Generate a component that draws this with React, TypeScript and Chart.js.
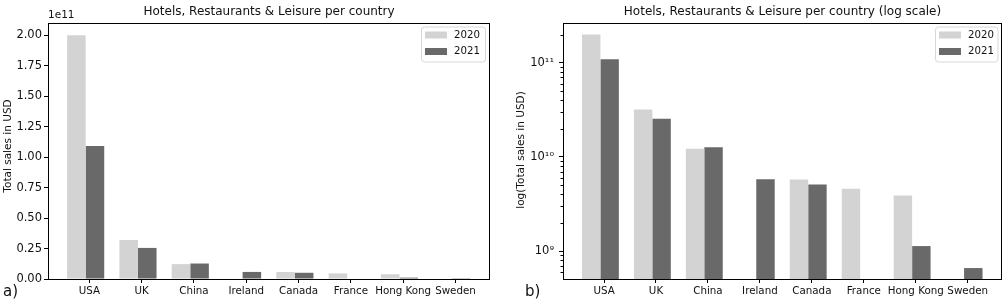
import React, { useEffect, useRef } from 'react';
import { Chart, registerables } from 'chart.js';

Chart.register(...registerables);

// ---------------- data ----------------
const categories = ['USA', 'UK', 'China', 'Ireland', 'Canada', 'France', 'Hong Kong', 'Sweden'];
const seriesNames = ['2020', '2021'];
const sales2020 = [2.0e11, 3.2e10, 1.22e10, null, 5.75e9, 4.6e9, 3.9e9, null];
const sales2021 = [1.09e11, 2.55e10, 1.27e10, 5.8e9, 5.1e9, null, 1.13e9, 6.6e8];
const linearTickValues = [0, 0.25e11, 0.5e11, 0.75e11, 1.0e11, 1.25e11, 1.5e11, 1.75e11, 2.0e11];
const linearExponentLabel = '1e11';
const logMajorLabels: Record<string, string> = { '9': '10⁹', '10': '10¹⁰', '11': '10¹¹' };
const logDecades = [8, 9, 10, 11];
const logMantissas = [1, 2, 3, 4, 5, 6, 7, 8, 9];

// ---------------- style ----------------
const FONT = '"DejaVu Sans", "Liberation Sans", sans-serif';
const COLORS = ['#d3d3d3', '#696969'];
const TEXT = '#111';
const X_SHIFT = -0.07;

type Panel = {
  kind: 'linear' | 'log';
  width: number;
  yWidth: number;
  padRight: number;
  title: string;
  yTitle: string;
  yTitleX: number;
  yTitleY: number;
  tag: string;
  tagX: number;
  legendX: number;
  yTickFont: number;
  yTickPad: number;
};

const panels: Panel[] = [
  {
    kind: 'linear', width: 500, yWidth: 48, padRight: 10,
    title: 'Hotels, Restaurants & Leisure per country',
    yTitle: 'Total sales in USD', yTitleX: 8.5, yTitleY: 146,
    tag: 'a)', tagX: 3, legendX: 421, yTickFont: 11.5, yTickPad: 2,
  },
  {
    kind: 'log', width: 508, yWidth: 63, padRight: 6,
    title: 'Hotels, Restaurants & Leisure per country (log scale)',
    yTitle: 'log(Total sales in USD)', yTitleX: 21.5, yTitleY: 150,
    tag: 'b)', tagX: 25, legendX: 435, yTickFont: 11.5, yTickPad: 5,
  },
];

function overlayPlugin(p: Panel) {
  return {
    id: 'overlay_' + p.kind,
    afterDraw(chart: any) {
      const ctx = chart.ctx as CanvasRenderingContext2D;
      const a = chart.chartArea;
      ctx.save();
      // frame
      ctx.strokeStyle = '#000';
      ctx.lineWidth = 1;
      ctx.strokeRect(a.left + 0.5, a.top + 0.5, a.right - a.left - 1, a.bottom - a.top);
      // minor ticks for log
      if (p.kind === 'log') {
        const ys = chart.scales.y;
        ys.ticks.forEach((t: any) => {
          const e = Math.floor(Math.log10(t.value) + 1e-9);
          const m = Math.round(t.value / Math.pow(10, e));
          if (m !== 1) {
            const py = Math.round(ys.getPixelForValue(t.value)) + 0.5;
            ctx.beginPath();
            ctx.moveTo(a.left, py);
            ctx.lineTo(a.left - 2.5, py);
            ctx.stroke();
          }
        });
      }
      // title
      ctx.fillStyle = TEXT;
      ctx.font = `12px ${FONT}`;
      ctx.textAlign = 'center';
      ctx.textBaseline = 'middle';
      ctx.fillText(p.title, (a.left + a.right) / 2, 12);
      // y title
      ctx.save();
      ctx.translate(p.yTitleX, p.yTitleY);
      ctx.rotate(-Math.PI / 2);
      ctx.font = `10.5px ${FONT}`;
      ctx.fillText(p.yTitle, 0, 0);
      ctx.restore();
      // exponent label
      if (p.kind === 'linear') {
        ctx.font = `10.5px ${FONT}`;
        ctx.textAlign = 'left';
        ctx.fillText(linearExponentLabel, a.left, 15.5);
      }
      // panel tag
      ctx.font = `15px ${FONT}`;
      ctx.textAlign = 'left';
      ctx.fillText(p.tag, p.tagX, 292);
      // legend
      const lx = p.legendX;
      const lw = p.kind === 'linear' ? 64 : 62.5;
      const ly = 26.5;
      const lh = 35;
      ctx.beginPath();
      (ctx as any).roundRect(lx + 0.5, ly + 0.5, lw, lh, 3);
      ctx.fillStyle = 'rgba(255,255,255,0.8)';
      ctx.fill();
      ctx.strokeStyle = '#d8d8d8';
      ctx.stroke();
      seriesNames.forEach((name, i) => {
        const cy = 35 + i * 16.5;
        ctx.fillStyle = COLORS[i];
        ctx.fillRect(lx + 4, cy - 3.5, 22, 7);
        ctx.fillStyle = TEXT;
        ctx.font = `10.2px ${FONT}`;
        ctx.textAlign = 'left';
        ctx.textBaseline = 'middle';
        ctx.fillText(name, lx + 33, cy);
      });
      ctx.restore();
    },
  };
}

function buildConfig(p: Panel): any {
  const mk = (vals: (number | null)[]) => vals.map((v, i) => ({ x: i + X_SHIFT, y: v }));
  const yScale: any =
    p.kind === 'linear'
      ? {
          type: 'linear',
          min: 0,
          max: 2.1e11,
          afterBuildTicks: (s: any) => {
            s.ticks = linearTickValues.map((v) => ({ value: v }));
          },
          ticks: {
            autoSkip: false,
            padding: p.yTickPad,
            color: TEXT,
            font: { family: FONT, size: p.yTickFont },
            callback: (v: number) => (v / 1e11).toFixed(2),
          },
          grid: {
            display: true, drawOnChartArea: false, drawTicks: true,
            tickLength: 4, tickColor: '#000', color: '#000',
          },
          border: { display: false },
          afterFit: (s: any) => { s.width = p.yWidth; },
        }
      : {
          type: 'logarithmic',
          min: 5.05e8,
          max: 2.65e11,
          afterBuildTicks: (s: any) => {
            const t: any[] = [];
            logDecades.forEach((e) =>
              logMantissas.forEach((m) => {
                const v = m * Math.pow(10, e);
                if (v >= 5.05e8 && v <= 2.65e11) t.push({ value: v });
              })
            );
            s.ticks = t;
          },
          ticks: {
            autoSkip: false,
            padding: p.yTickPad,
            color: TEXT,
            font: { family: FONT, size: p.yTickFont },
            callback: (v: number) => {
              const e = Math.log10(v);
              const r = Math.round(e);
              return Math.abs(e - r) < 1e-6 ? logMajorLabels[String(r)] ?? '' : '';
            },
          },
          grid: {
            display: true, drawOnChartArea: false, drawTicks: true,
            tickLength: 4,
            tickColor: (c: any) => {
              const v = c.tick ? c.tick.value : 0;
              const e = Math.log10(v);
              return Math.abs(e - Math.round(e)) < 1e-6 ? '#000' : 'rgba(0,0,0,0)';
            },
            color: '#000',
          },
          border: { display: false },
          afterFit: (s: any) => { s.width = p.yWidth; },
        };

  return {
    type: 'bar',
    data: {
      datasets: [
        { label: seriesNames[0], data: mk(sales2020), backgroundColor: COLORS[0], borderWidth: 0 },
        { label: seriesNames[1], data: mk(sales2021), backgroundColor: COLORS[1], borderWidth: 0 },
      ],
    },
    options: {
      animation: false,
      responsive: false,
      devicePixelRatio: 1,
      layout: { padding: { top: 23, right: p.padRight, left: 0, bottom: 0 } },
      datasets: { bar: { categoryPercentage: 0.71, barPercentage: 1.0 } },
      plugins: { legend: { display: false }, title: { display: false }, tooltip: { enabled: false } },
      scales: {
        x: {
          type: 'linear',
          offset: false,
          min: -0.79,
          max: 7.66,
          afterBuildTicks: (s: any) => {
            s.ticks = categories.map((_, i) => ({ value: i }));
          },
          ticks: {
            autoSkip: false,
            maxRotation: 0,
            padding: 2,
            color: TEXT,
            font: { family: FONT, size: 10.3 },
            callback: (v: number) => categories[Math.round(v)] ?? '',
          },
          grid: {
            display: true, drawOnChartArea: false, drawTicks: true, offset: false,
            tickLength: 4, tickColor: '#000', color: '#000',
          },
          border: { display: false },
          afterFit: (s: any) => { s.height = 28; },
        },
        y: yScale,
      },
    },
    plugins: [overlayPlugin(p)],
  };
}

function PanelChart({ p, left }: { p: Panel; left: number }) {
  const ref = useRef<HTMLCanvasElement>(null);
  useEffect(() => {
    if (!ref.current) return;
    const chart = new Chart(ref.current, buildConfig(p));
    return () => chart.destroy();
  }, [p]);
  return (
    <canvas
      ref={ref}
      width={p.width}
      height={307}
      style={{ position: 'absolute', left, top: 0, width: p.width, height: 307 }}
    />
  );
}

export default function App() {
  return (
    <div style={{ position: 'absolute', left: 0, top: 0, width: 1008, height: 307, background: '#fff' }}>
      <PanelChart p={panels[0]} left={0} />
      <PanelChart p={panels[1]} left={500} />
    </div>
  );
}
